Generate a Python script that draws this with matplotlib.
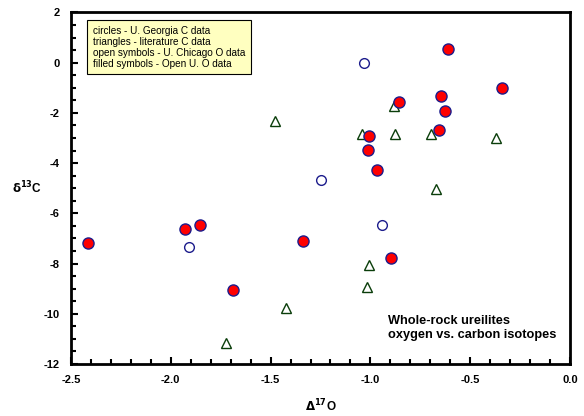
import numpy as np
import matplotlib
matplotlib.use("Agg")
from matplotlib import pyplot as plt
from matplotlib.ticker import MultipleLocator, FormatStrFormatter

plt.rcParams['font.family'] = ['Liberation Sans', 'DejaVu Sans']

# filled symbols - Open U. O data, U. Georgia C data
filled_x = [-0.61, -0.34, -0.648, -0.628, -0.855, -0.658, -1.009, -1.014, -0.969,
            -0.897, -2.416, -1.929, -1.855, -1.69, -1.336]
filled_y = [0.55, -1.0, -1.34, -1.91, -1.58, -2.67, -2.91, -3.49, -4.27,
            -7.79, -7.20, -6.63, -6.47, -9.06, -7.10]

# open circles - U. Chicago O data, U. Georgia C data
open_x = [-1.03, -1.249, -0.942, -1.907]
open_y = [-0.02, -4.67, -6.45, -7.35]

# triangles - literature C data
tri_x = [-0.883, -1.044, -0.878, -0.698, -0.371, -0.67, -1.007, -1.019, -1.423, -1.725, -1.478]
tri_y = [-1.71, -2.84, -2.83, -2.83, -3.01, -5.03, -8.05, -8.94, -9.76, -11.16, -2.31]

legend_lines = ["circles - U. Georgia C data",
                "triangles - literature C data",
                "open symbols - U. Chicago O data",
                "filled symbols - Open U. O data"]

fig = plt.figure(figsize=(5.84, 4.16), dpi=100)
ax = fig.add_axes([0.1216, 0.125, 0.8544, 0.845])

ax.plot(tri_x, tri_y, linestyle='none', marker='^', markersize=6.5,
        markerfacecolor='white', markeredgecolor='#0a3d0a', markeredgewidth=1.0)
ax.plot(open_x, open_y, linestyle='none', marker='o', markersize=7,
        markerfacecolor='white', markeredgecolor='#1c1c8c', markeredgewidth=1.0)
ax.plot(filled_x, filled_y, linestyle='none', marker='o', markersize=8,
        markerfacecolor='#ff0000', markeredgecolor='#1c1c8c', markeredgewidth=1.0)

ax.set_xlim(-2.5, 0.0)
ax.set_ylim(-12, 2)
ax.xaxis.set_major_locator(MultipleLocator(0.5))
ax.xaxis.set_minor_locator(MultipleLocator(0.1))
ax.yaxis.set_major_locator(MultipleLocator(2))
ax.yaxis.set_minor_locator(MultipleLocator(0.5))
ax.xaxis.set_major_formatter(FormatStrFormatter('%.1f'))
ax.yaxis.set_major_formatter(FormatStrFormatter('%d'))

for s in ax.spines.values():
    s.set_linewidth(2)
ax.tick_params(which='both', direction='in', top=False, right=False, width=1.5)
ax.tick_params(which='major', length=5, pad=8, labelsize=8)
ax.tick_params(which='minor', length=3.5)
for lab in ax.get_xticklabels() + ax.get_yticklabels():
    lab.set_fontweight('bold')

ax.set_xlabel(r'$\mathbf{\Delta}^{\mathbf{17}}$O', fontsize=8.5, fontweight='bold', labelpad=9)
ax.set_ylabel(r'$\mathbf{\delta}^{\mathbf{13}}$C', fontsize=8.5, fontweight='bold',
              rotation=0, labelpad=12, va='center')

ax.text(0.044, 0.962, "\n".join(legend_lines), transform=ax.transAxes, fontsize=7.2,
        va='top', ha='left', linespacing=1.12,
        bbox=dict(boxstyle='square,pad=0.55', facecolor='#ffffc0', edgecolor='black', linewidth=0.8))

ax.text(0.635, 0.14, "Whole-rock ureilites\noxygen vs. carbon isotopes", transform=ax.transAxes,
        fontsize=9.2, fontweight='bold', va='top', ha='left', linespacing=1.28)

fig.savefig('out.png', dpi=100)
